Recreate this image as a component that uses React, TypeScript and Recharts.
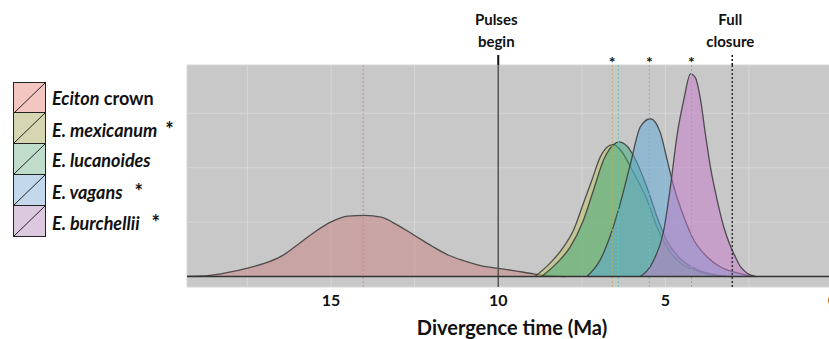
import React from "react";
import {
  ComposedChart,
  Area,
  XAxis,
  YAxis,
  CartesianGrid,
  ReferenceLine,
} from "recharts";

// posterior densities of divergence time (Ma)
const crownX = [19.5, 19, 18.5, 18, 17.5, 17, 16.5, 16, 15.5, 15, 14.5, 14, 13.5, 13, 12.5, 12, 11.5, 11, 10.5, 10, 9.5, 9, 8.5, 8];
const crownY = [0, 0.001, 0.006, 0.017, 0.031, 0.048, 0.074, 0.117, 0.163, 0.201, 0.222, 0.225, 0.218, 0.188, 0.151, 0.113, 0.079, 0.057, 0.039, 0.03, 0.021, 0.011, 0.003, 0];

const mexX = [8.9, 8.45, 8.05, 7.75, 7.45, 7.2, 6.95, 6.65, 6.55, 6.35, 5.95, 5.55, 5.25, 4.95, 4.55, 4.15, 3.65, 3.2];
const mexY = [0, 0.049, 0.108, 0.17, 0.27, 0.354, 0.439, 0.483, 0.485, 0.466, 0.381, 0.282, 0.182, 0.108, 0.05, 0.024, 0.005, 0];

const lucX = [8.7, 8.25, 7.85, 7.45, 7.15, 6.85, 6.55, 6.4, 6.15, 5.95, 5.55, 5.25, 4.95, 4.55, 4.05, 3.5, 3.05];
const lucY = [0, 0.049, 0.108, 0.208, 0.318, 0.428, 0.485, 0.495, 0.48, 0.443, 0.327, 0.219, 0.13, 0.065, 0.025, 0.006, 0];

const vagX = [7.35, 6.95, 6.65, 6.35, 6.05, 5.75, 5.45, 5.15, 4.95, 4.75, 4.45, 4.15, 3.75, 3.35, 2.85, 2.35];
const vagY = [0, 0.061, 0.15, 0.269, 0.412, 0.55, 0.58, 0.528, 0.43, 0.331, 0.22, 0.134, 0.072, 0.035, 0.013, 0];

const burX = [5.75, 5.35, 5.05, 4.85, 4.65, 4.45, 4.25, 4.1, 3.95, 3.8, 3.65, 3.45, 3.25, 3.05, 2.9, 2.75, 2.55, 2.3];
const burY = [0, 0.06, 0.17, 0.33, 0.52, 0.65, 0.745, 0.73, 0.65, 0.52, 0.4, 0.28, 0.18, 0.11, 0.07, 0.035, 0.012, 0];

const names = ["Eciton crown", "E. mexicanum", "E. lucanoides", "E. vagans", "E. burchellii"];
const medians = [14.04, 6.59, 6.41, 5.48, 4.22];
const starred = [false, true, false, true, true];
const pulsesBegin = 10;
const fullClosure = 3;
const xTicks = [17.5, 15, 12.5, 10, 7.5, 5, 2.5, 0];
const yTicks = [0, 0.2, 0.4, 0.6];

const fills = ["#ca8080", "#c0c464", "#3aa878", "#5ca8d8", "#c478c8"];
const medianColors = ["#e08080", "#b8b050", "#60c8c0", "#70b8e0", "#d080d8"];
const pastel = ["#f4c6c1", "#d7d6b2", "#c0dccb", "#c3d8ea", "#dcc9e0"];

const series = [
  [crownX, crownY],
  [mexX, mexY],
  [lucX, lucY],
  [vagX, vagY],
  [burX, burY],
].map(([xs, ys]) => xs.map((x, i) => ({ x, y: ys[i] })));

const FONT = "Lato, 'Open Sans', sans-serif";

function TopNote(props: any) {
  const { viewBox, lines, dotted } = props;
  if (!viewBox) return null;
  const x = viewBox.x;
  const top = viewBox.y;
  return (
    <g>
      <line
        x1={x}
        x2={x}
        y1={top - 10}
        y2={top}
        stroke="#111"
        strokeWidth={dotted ? 1.5 : 2}
        strokeDasharray={dotted ? "2 2" : undefined}
      />
      {lines.map((t: string, i: number) => (
        <text
          key={t}
          x={x - 2}
          y={top - 40 + i * 22}
          textAnchor="middle"
          fontFamily={FONT}
          fontWeight={700}
          fontSize={15}
          fill="#111"
        >
          {t}
        </text>
      ))}
    </g>
  );
}

function Star(props: any) {
  const { viewBox } = props;
  if (!viewBox) return null;
  return (
    <text x={viewBox.x} y={viewBox.y + 3} textAnchor="middle" fontFamily={FONT} fontWeight={700} fontSize={16} fill="#111">
      *
    </text>
  );
}

export default function App() {
  return (
    <div style={{ position: "absolute", left: 0, top: 0, width: 829, height: 339, overflow: "hidden", background: "#fff" }}>
      <ComposedChart width={866} height={339} margin={{ top: 65, right: 0, bottom: 22, left: 187 }}>
        <CartesianGrid fill="#c8c8c8" stroke="#d6d6d6" strokeWidth={1} />
        <XAxis
          type="number"
          dataKey="x"
          domain={[-1, 19.31]}
          reversed
          ticks={xTicks}
          tickFormatter={(v: number) => (v % 5 === 0 ? String(v) : "")}
          axisLine={false}
          tickLine={false}
          tickMargin={2}
          height={30}
          tick={{ fontFamily: FONT, fontWeight: 700, fontSize: 16, fill: "#111" }}
          allowDataOverflow
        />
        <YAxis hide type="number" domain={[-0.0386, 0.7776]} ticks={yTicks} allowDataOverflow />
        {medians.map((m, i) => (
          <ReferenceLine key={"m" + i} x={m} stroke={medianColors[i]} strokeDasharray="2 2" strokeWidth={1} />
        ))}
        <ReferenceLine x={pulsesBegin} stroke="#555" strokeWidth={1.5} label={<TopNote lines={["Pulses", "begin"]} />} />
        {series.map((d, i) => (
          <Area
            key={names[i]}
            data={d}
            dataKey="y"
            type="monotone"
            fill={fills[i]}
            fillOpacity={0.5}
            stroke="#3a3a3a"
            strokeWidth={1.3}
            strokeOpacity={0.85}
            isAnimationActive={false}
          />
        ))}
        <ReferenceLine y={0} stroke="#333" strokeWidth={1.5} />
        <ReferenceLine
          x={fullClosure}
          stroke="#333"
          strokeWidth={1.5}
          strokeDasharray="2 2"
          label={<TopNote lines={["Full", "closure"]} dotted />}
        />
        {medians.map((m, i) =>
          starred[i] ? (
            <ReferenceLine key={"s" + i} x={m} stroke="none" strokeOpacity={0} label={<Star />} />
          ) : null
        )}
      </ComposedChart>

      <div
        style={{
          position: "absolute",
          left: 512,
          top: 317,
          transform: "translateX(-50%)",
          fontFamily: FONT,
          fontWeight: 700,
          fontSize: 20,
          lineHeight: "20px",
          whiteSpace: "nowrap",
          color: "#111",
        }}
      >
        Divergence time (Ma)
      </div>

      <div style={{ position: "absolute", left: 13, top: 82 }}>
        {names.map((n, i) => (
          <div key={n} style={{ display: "flex", alignItems: "center", height: 31 }}>
            <svg width={33} height={32} style={{ display: "block", marginTop: i === 0 ? 0 : -1 }}>
              <rect x={0.5} y={0.5} width={32} height={31} fill={pastel[i]} stroke="#222" strokeWidth={1} />
              <line x1={1} y1={31} x2={32} y2={1} stroke="#222" strokeWidth={1} />
            </svg>
            <span
              style={{
                marginLeft: 6,
                fontFamily: FONT,
                fontWeight: 700,
                fontSize: 18,
                color: "#111",
                whiteSpace: "nowrap",
              }}
            >
              {i === 0 ? (
                <>
                  <i>Eciton</i> crown
                </>
              ) : (
                <i>{n}</i>
              )}
              {starred[i] ? <span style={{ marginLeft: i === 1 ? 8 : 12, fontSize: 20 }}>*</span> : null}
            </span>
          </div>
        ))}
      </div>
    </div>
  );
}
